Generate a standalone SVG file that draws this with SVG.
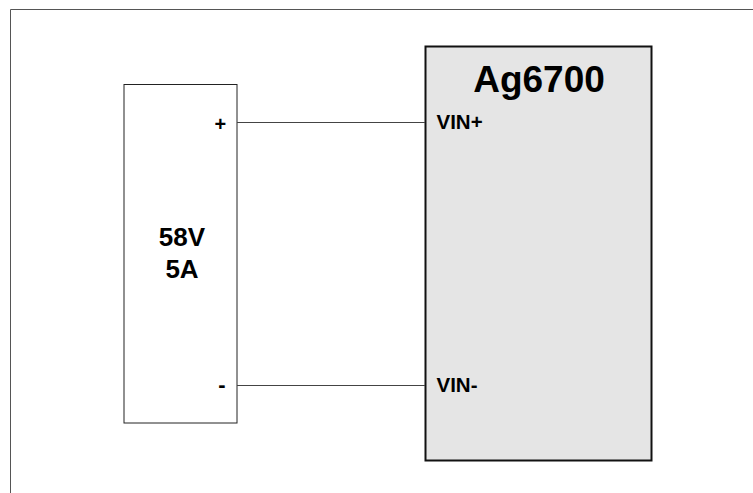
<svg xmlns="http://www.w3.org/2000/svg" width="753" height="493" viewBox="0 0 753 493">
<style>
.t{font-family:"Liberation Sans",Arial,sans-serif;font-weight:bold;fill:#000}
.w{stroke:#444;stroke-width:1;fill:none}
</style>
<rect width="753" height="493" fill="#fff"/>
<g id="frame"><path d="M10.5 493V9.5H753" stroke="#555" stroke-width="1" fill="none"/></g>
<g id="psu">
<rect x="124" y="84.5" width="113" height="338.5" fill="#fff" stroke="#222" stroke-width="1"/>
<text class="t" x="182" y="245.7" font-size="26" text-anchor="middle">58V</text>
<text class="t" x="182" y="278" font-size="26" text-anchor="middle">5A</text>
<text class="t" x="214.5" y="131" font-size="20">+</text>
<text class="t" x="218.3" y="391.5" font-size="22">-</text>
</g>
<g id="ag6700">
<rect x="425.5" y="46.5" width="226" height="414" fill="#e5e5e5" stroke="#111" stroke-width="2"/>
<text class="t" x="539" y="91.6" font-size="37" text-anchor="middle">Ag6700</text>
<text class="t" x="436.5" y="128.7" font-size="20.5">VIN+</text>
<text class="t" x="436.5" y="392" font-size="20.5">VIN-</text>
</g>
<g id="connectors">
<line class="w" x1="237" y1="122.5" x2="425" y2="122.5"/>
<line class="w" x1="237" y1="385.5" x2="425" y2="385.5"/>
</g>
</svg>
